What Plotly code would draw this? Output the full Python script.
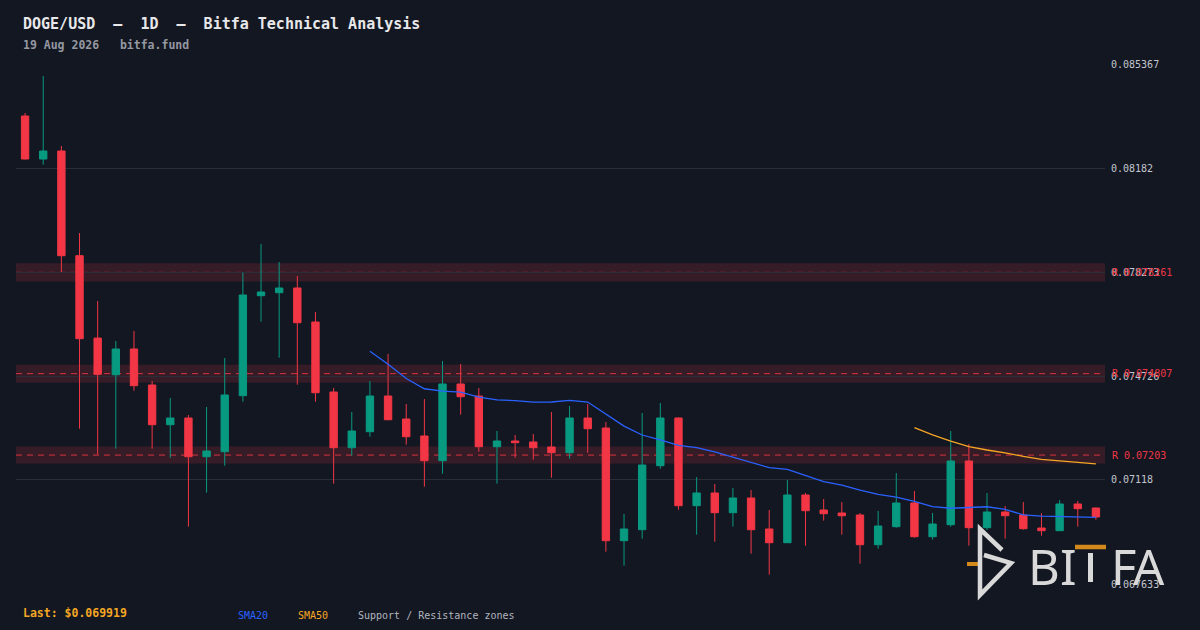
import pandas as pd
import plotly.graph_objects as go

# DOGE/USD daily candles
DATES = pd.date_range(end="2026-08-19", periods=60, freq="D")

OPEN = [0.083594, 0.082127, 0.082400, 0.07883, 0.07602, 0.07477, 0.075647, 0.07442, 0.073066, 0.073294,
        0.071974, 0.072145, 0.074055, 0.077465, 0.077567, 0.077728, 0.076568, 0.074181, 0.072281, 0.072827,
        0.074044, 0.07326, 0.07268, 0.071838, 0.074454, 0.074044, 0.072315, 0.07251, 0.072476, 0.072305,
        0.072111, 0.073294, 0.072953, 0.06911, 0.069485, 0.071667, 0.073294, 0.070303, 0.070737, 0.070065,
        0.070566, 0.069509, 0.069041, 0.070668, 0.070157, 0.070054, 0.069986, 0.068973, 0.069587, 0.070395,
        0.069246, 0.069655, 0.071828, 0.069553, 0.070088, 0.069986, 0.069543, 0.069451, 0.070361, 0.070225]
HIGH = [0.083696, 0.084958, 0.082570, 0.079603, 0.077284, 0.07592, 0.076261, 0.074556, 0.073976, 0.073397,
        0.073669, 0.07534, 0.07825, 0.079228, 0.078614, 0.078137, 0.076909, 0.074317, 0.073499, 0.074556,
        0.075477, 0.073772, 0.073942, 0.075238, 0.075136, 0.074317, 0.072851, 0.072714, 0.072749, 0.073499,
        0.073703, 0.073772, 0.073158, 0.07002, 0.073465, 0.073806, 0.07331, 0.071282, 0.071043, 0.070907,
        0.070839, 0.070157, 0.07118, 0.070737, 0.070532, 0.070429, 0.070054, 0.070123, 0.071418, 0.070805,
        0.070054, 0.072851, 0.072407, 0.070737, 0.070293, 0.070429, 0.070054, 0.070497, 0.070464, 0.07024]
LOW = [0.08211, 0.081933, 0.078273, 0.072929, 0.072043, 0.072247, 0.074225, 0.072247, 0.07194, 0.069587,
       0.070747, 0.071667, 0.07385, 0.076578, 0.075351, 0.07443, 0.07385, 0.071054, 0.072008, 0.072656,
       0.07322, 0.072384, 0.070951, 0.071395, 0.073407, 0.072145, 0.071054, 0.07194, 0.071872, 0.071258,
       0.071906, 0.072111, 0.068734, 0.068257, 0.069178, 0.071565, 0.070167, 0.069314, 0.069075, 0.069587,
       0.068666, 0.06795, 0.06903, 0.068939, 0.069792, 0.069314, 0.068325, 0.068837, 0.069553, 0.069212,
       0.069144, 0.069587, 0.068939, 0.069475, 0.069178, 0.069485, 0.06928, 0.06944, 0.069587, 0.069826]
CLOSE = [0.082127, 0.082400, 0.078829, 0.075999, 0.074784, 0.075647, 0.074396, 0.073066, 0.073294, 0.071974,
         0.072169, 0.074079, 0.077489, 0.077591, 0.077728, 0.076544, 0.074157, 0.072281, 0.072851, 0.074044,
         0.073236, 0.072656, 0.071838, 0.074454, 0.074021, 0.072315, 0.07251, 0.072452, 0.072281, 0.072111,
         0.073294, 0.072929, 0.06911, 0.069509, 0.071691, 0.073294, 0.070303, 0.070737, 0.070065, 0.070566,
         0.069485, 0.069041, 0.070668, 0.070133, 0.07003, 0.069962, 0.068973, 0.069611, 0.070395, 0.069246,
         0.069679, 0.071828, 0.069553, 0.070088, 0.069962, 0.069519, 0.069451, 0.070361, 0.070201, 0.069919]

# resistance zones (level, +-0.4% band)
ZONE_LEVELS = [0.078261, 0.074807, 0.07203]
ZONE_LABELS = ["R 0.078261", "R 0.074807", "R 0.07203"]
ZONE_PCT = 0.004

# right axis ticks
TICK_LABELS = ["0.067633", "0.07118", "0.074726", "0.078273", "0.08182", "0.085367"]
TICK_VALS = [float(t) for t in TICK_LABELS]

BG = "#131722"
UP = "#089981"
DOWN = "#f23645"
BLUE = "#2962ff"
ORANGE = "#f5a623"
LOGO = "#d9d9d9"
LOGO_ORANGE = "#d4891c"
MONO = "DejaVu Sans Mono"

closes = pd.Series(CLOSE)
sma20 = closes.rolling(20).mean()
sma50 = closes.rolling(50).mean()

# plot area in pixels (used to place the header / footer / logo)
L, R, T, B = 16, 1105, 64, 584


def px(x):
    return (x - L) / (R - L)


def py(y):
    return (B - y) / (B - T)


fig = go.Figure()

fig.add_trace(go.Candlestick(
    x=DATES, open=OPEN, high=HIGH, low=LOW, close=CLOSE,
    increasing=dict(line=dict(color=UP, width=1), fillcolor=UP),
    decreasing=dict(line=dict(color=DOWN, width=1), fillcolor=DOWN),
    whiskerwidth=0, name="DOGE/USD", showlegend=False,
))
fig.add_trace(go.Scatter(x=DATES, y=sma20, mode="lines",
                         line=dict(color=BLUE, width=1.3), showlegend=False))
fig.add_trace(go.Scatter(x=DATES, y=sma50, mode="lines",
                         line=dict(color=ORANGE, width=1.3), showlegend=False))

# zones
for lvl, lab in zip(ZONE_LEVELS, ZONE_LABELS):
    fig.add_shape(type="rect", xref="paper", x0=0, x1=1,
                  y0=lvl * (1 - ZONE_PCT), y1=lvl * (1 + ZONE_PCT),
                  fillcolor="rgba(242,54,69,0.16)", line_width=0, layer="below")
    fig.add_shape(type="line", xref="paper", x0=0, x1=1, y0=lvl, y1=lvl,
                  line=dict(color="rgba(242,54,69,0.85)", width=1, dash="6px,5px"),
                  layer="between")
    fig.add_annotation(xref="paper", x=1, y=lvl, xanchor="left", xshift=5,
                       text=lab, showarrow=False,
                       font=dict(family=MONO, size=10, color=DOWN))

# header
fig.add_annotation(xref="paper", yref="paper", x=px(21), y=py(24), xanchor="left", yanchor="middle",
                   text="<b>DOGE/USD  –  1D  –  Bitfa Technical Analysis</b>", showarrow=False,
                   font=dict(family=MONO, size=15, color="#e8e8ea"))
fig.add_annotation(xref="paper", yref="paper", x=px(21), y=py(45), xanchor="left", yanchor="middle",
                   text="<b>19 Aug 2026   bitfa.fund</b>", showarrow=False,
                   font=dict(family=MONO, size=11.5, color="#9598a1"))

# footer
fig.add_annotation(xref="paper", yref="paper", x=px(21), y=py(613), xanchor="left", yanchor="middle",
                   text=f"<b>Last: ${CLOSE[-1]:.6f}</b>", showarrow=False,
                   font=dict(family=MONO, size=11.5, color=ORANGE))
for x0, txt, col in [(236, "SMA20", BLUE), (296, "SMA50", ORANGE),
                     (356, "Support / Resistance zones", "#b2b5be")]:
    fig.add_annotation(xref="paper", yref="paper", x=px(x0), y=py(615), xanchor="left", yanchor="middle",
                       text=txt, showarrow=False, font=dict(family=MONO, size=10, color=col))

# BITFA watermark (icon + letters, T built from an orange bar and a stem)
fig.add_shape(type="line", xref="paper", yref="paper", x0=px(967), x1=px(978), y0=py(564), y1=py(564),
              line=dict(color=LOGO_ORANGE, width=4), layer="above")
fig.add_shape(type="path", xref="paper", yref="paper",
              path=(f"M {px(1002)} {py(550)} L {px(980)} {py(529)} L {px(980)} {py(595)} "
                    f"L {px(1011)} {py(563)} L {px(984)} {py(555)}"),
              line=dict(color=LOGO, width=4.5), layer="above")
fig.add_shape(type="line", xref="paper", yref="paper", x0=px(1075), x1=px(1106), y0=py(547), y1=py(547),
              line=dict(color=LOGO_ORANGE, width=4.5), layer="above")
fig.add_shape(type="line", xref="paper", yref="paper", x0=px(1090.5), x1=px(1090.5), y0=py(553), y1=py(582),
              line=dict(color=LOGO, width=5), layer="above")
for cx, ch in [(1044, "B"), (1068, "I"), (1123, "F"), (1149, "A")]:
    fig.add_annotation(xref="paper", yref="paper", x=px(cx), y=py(566), xanchor="center", yanchor="middle",
                       text=ch, showarrow=False,
                       font=dict(family="Noto Sans", size=49, color=LOGO))

fig.update_layout(
    width=1200, height=630,
    margin=dict(l=L, r=1200 - R, t=T, b=630 - B),
    paper_bgcolor=BG, plot_bgcolor=BG,
    boxgap=0.42,
    showlegend=False,
    xaxis=dict(
        range=[DATES[0] - pd.Timedelta(hours=12), DATES[-1] + pd.Timedelta(hours=12)],
        rangeslider_visible=False, showgrid=False, showticklabels=False,
        zeroline=False, showline=False, ticks="",
    ),
    yaxis=dict(
        side="right", range=[TICK_VALS[0], TICK_VALS[-1]],
        tickvals=TICK_VALS, ticktext=TICK_LABELS,
        showgrid=True, gridcolor="#2a2e39", gridwidth=1, zeroline=False, showline=False,
        ticks="", ticklabelstandoff=5,
        tickfont=dict(family=MONO, size=10, color="#c3c6ce"),
    ),
)

fig.write_html("out.html", config={"displayModeBar": False},
               post_script="document.body.style.margin='0';document.body.style.background='#131722';")
